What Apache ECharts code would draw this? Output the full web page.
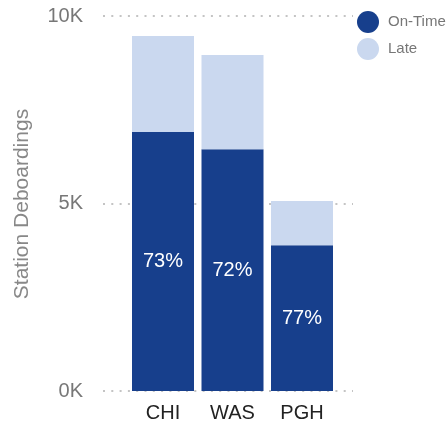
<!DOCTYPE html>
<html>
<head>
<meta charset="utf-8">
<script src="https://cdn.jsdelivr.net/npm/echarts@6/dist/echarts.min.js"></script>
<style>html,body{margin:0;padding:0;background:#fff;}#c{width:447px;height:425px;}</style>
</head>
<body>
<div id="c"></div>
<script>
const categories = ['CHI', 'WAS', 'PGH'];
const onTime = [6910, 6450, 3890];
const late = [2560, 2510, 1180];
const yTicks = [0, 5000, 10000];
const yTitle = 'Station Deboardings';

const FONT = '"Liberation Sans", Arial, sans-serif';
const chart = echarts.init(document.getElementById('c'), null, {renderer: 'canvas'});
chart.setOption({
  animation: false,
  textStyle: {fontFamily: FONT},
  legend: {
    orient: 'vertical',
    left: 352, top: 6,
    itemWidth: 22, itemHeight: 22, itemGap: 5,
    icon: 'circle',
    textStyle: {fontSize: 15, color: '#777', fontFamily: FONT, padding: [0, 0, 0, 4]},
    data: ['On-Time', 'Late']
  },
  graphic: [{
    type: 'text',
    x: 22, y: 204,
    rotation: Math.PI / 2,
    style: {text: yTitle, font: '21px ' + FONT, fill: '#888',
            align: 'center', verticalAlign: 'middle'}
  }],
  grid: [
    {left: 103, right: 94, top: 16, bottom: 34},
    {left: 128.25, width: 208.5, top: 16, bottom: 34}
  ],
  xAxis: [
    {gridIndex: 0, type: 'value', show: false, min: 0, max: 1},
    {gridIndex: 1, type: 'category', data: categories,
     axisLine: {show: false}, axisTick: {show: false},
     axisLabel: {fontSize: 20, color: '#222', margin: 12, fontFamily: FONT}}
  ],
  yAxis: [
    {gridIndex: 0, type: 'value', min: yTicks[0], max: yTicks[yTicks.length - 1], interval: 5000,
     axisLine: {show: false}, axisTick: {show: false},
     axisLabel: {fontSize: 20, color: '#777', margin: 20, fontFamily: FONT,
       formatter: v => (v / 1000) + 'K'},
     splitLine: {show: true, lineStyle: {color: '#c4c4c4', width: 2, type: [2, 6.3]}}},
    {gridIndex: 1, type: 'value', min: 0, max: 10000, show: false}
  ],
  series: [
    {name: 'On-Time', type: 'bar', stack: 's', xAxisIndex: 1, yAxisIndex: 1,
     data: onTime, barWidth: 62,
     itemStyle: {color: '#173F8C'},
     label: {show: true, position: 'inside', color: '#fff', fontSize: 20, fontFamily: FONT,
       formatter: p => Math.round(100 * onTime[p.dataIndex] / (onTime[p.dataIndex] + late[p.dataIndex])) + '%'}},
    {name: 'Late', type: 'bar', stack: 's', xAxisIndex: 1, yAxisIndex: 1,
     data: late, barWidth: 62,
     itemStyle: {color: '#CAD8EF'}}
  ]
});
</script>
</body>
</html>
